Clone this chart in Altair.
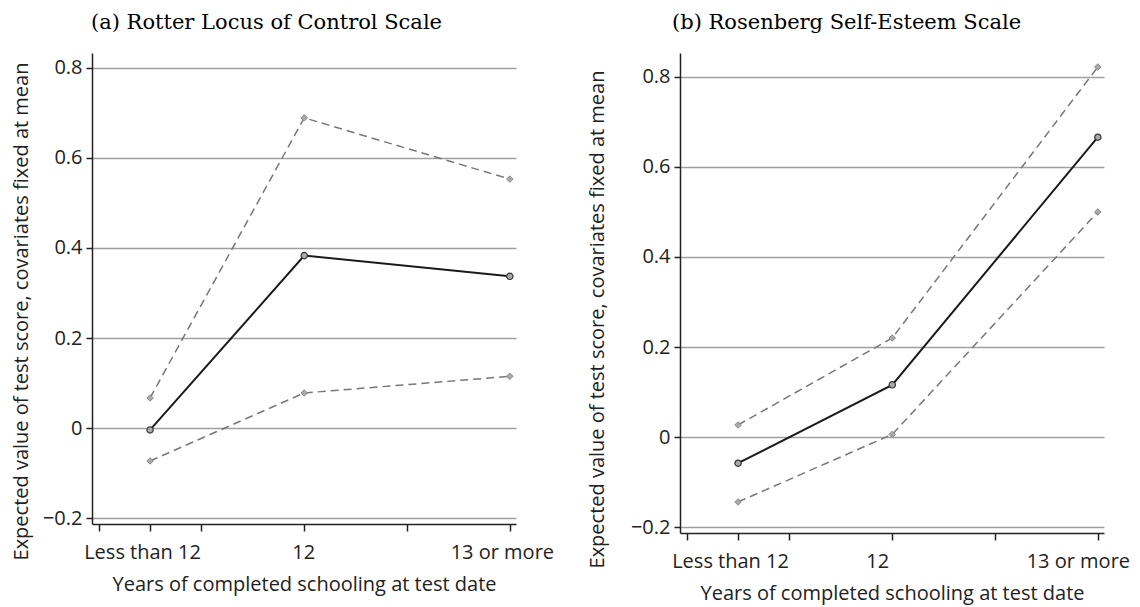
import altair as alt
import pandas as pd

# ---- data ----
categories = ["Less than 12", "12", "13 or more"]
x_codes = [0, 3, 7]          # position of each schooling group on the x scale
x_ticks = [-1, 0, 1, 3, 5, 7]
y_ticks = [-0.2, 0, 0.2, 0.4, 0.6, 0.8]

rotter_mean = [-0.004, 0.383, 0.337]
rotter_upper = [0.067, 0.689, 0.553]
rotter_lower = [-0.073, 0.078, 0.115]

rosen_mean = [-0.058, 0.116, 0.666]
rosen_upper = [0.027, 0.220, 0.822]
rosen_lower = [-0.144, 0.006, 0.500]

titles = ["(a) Rotter Locus of Control Scale", "(b) Rosenberg Self-Esteem Scale"]

SANS = "Open Sans"
SERIF = "DejaVu Serif"

label_expr = ("datum.value == 0 ? 'Less than 12' : datum.value == 3 ? '12' : "
              "datum.value == 7 ? '13 or more' : ''")
ylabel_expr = ("datum.value == 0 ? '0' : replace(format(datum.value, '.1f'), '-', '\u2212')")


def panel(mean, upper, lower, title, ydom, height, title_dx, ytitle_x, ytitle_y, offs):
    mean_df = pd.DataFrame({"x": x_codes, "y": mean, "cat": categories})
    ci_df = pd.DataFrame({
        "x": x_codes + x_codes,
        "y": upper + lower,
        "bound": ["upper"] * 3 + ["lower"] * 3,
    })
    label_offset = {
        "condition": [
            {"test": "datum.value == 0", "value": offs[0]},
            {"test": "datum.value == 3", "value": offs[1]},
            {"test": "datum.value == 7", "value": offs[2]},
        ],
        "value": 0,
    }
    xenc = alt.X("x:Q",
                 scale=alt.Scale(domain=[-1.13, 7.12], nice=False, zero=False),
                 axis=alt.Axis(values=x_ticks, labelExpr=label_expr, grid=False,
                               title="Years of completed schooling at test date",
                               titleY=60, titleBaseline="middle",
                               labelPadding=11, tickSize=7,
                               labelOffset=label_offset))
    yscale = alt.Scale(domain=ydom, nice=False, zero=False)
    yaxis = alt.Axis(values=y_ticks, labelExpr=ylabel_expr, grid=True,
                     title="Expected value of test score, covariates fixed at mean",
                     titleX=ytitle_x, titleY=ytitle_y, titleBaseline="middle",
                     tickSize=6, labelPadding=4)

    ci_lines = alt.Chart(ci_df).mark_line(
        color="#777777", strokeWidth=1.5, strokeDash=[8, 5]
    ).encode(x=xenc, y=alt.Y("y:Q", scale=yscale, axis=yaxis), detail="bound:N")
    ci_pts = alt.Chart(ci_df).mark_point(
        shape="diamond", filled=True, fill="#aaaaaa", stroke="#888888",
        strokeWidth=1, size=42, opacity=1
    ).encode(x="x:Q", y="y:Q", detail="bound:N")
    mean_line = alt.Chart(mean_df).mark_line(
        color="#1a1a1a", strokeWidth=2
    ).encode(x="x:Q", y="y:Q")
    mean_pts = alt.Chart(mean_df).mark_point(
        shape="circle", filled=True, fill="#aaaaaa", stroke="#333333",
        strokeWidth=1.2, size=40, opacity=1
    ).encode(x="x:Q", y="y:Q")

    return alt.layer(ci_lines, ci_pts, mean_line, mean_pts).properties(
        width=424, height=height,
        title=alt.TitleParams(title, font=SERIF, fontSize=21, fontWeight="normal",
                              color="black", anchor="start", frame="group",
                              offset=3, dx=title_dx,
                              baseline="alphabetic"),
    )


left = panel(rotter_mean, rotter_upper, rotter_lower, titles[0],
             [-0.213, 0.833], 471, -1, -71, 258, [-8, -1, -8])
right = panel(rosen_mean, rosen_upper, rosen_lower, titles[1],
              [-0.213, 0.853], 480, -8, -83, 266, [-8, -15, -20])

chart = alt.hconcat(left, right, spacing=32).properties(
    padding={"left": 2, "top": 4, "right": 2, "bottom": 2}
).configure_view(stroke=None).configure_axis(
    labelFont=SANS, titleFont=SANS, labelFontSize=20, titleFontSize=20,
    labelColor="#222222", titleColor="#222222", titleFontWeight="normal",
    domainColor="#222222", domainWidth=1.5, tickColor="#222222", tickWidth=1.5,
    gridColor="#a0a0a0", gridWidth=1.5,
)

chart.save("out.html", embed_options={"renderer": "svg", "actions": False})
